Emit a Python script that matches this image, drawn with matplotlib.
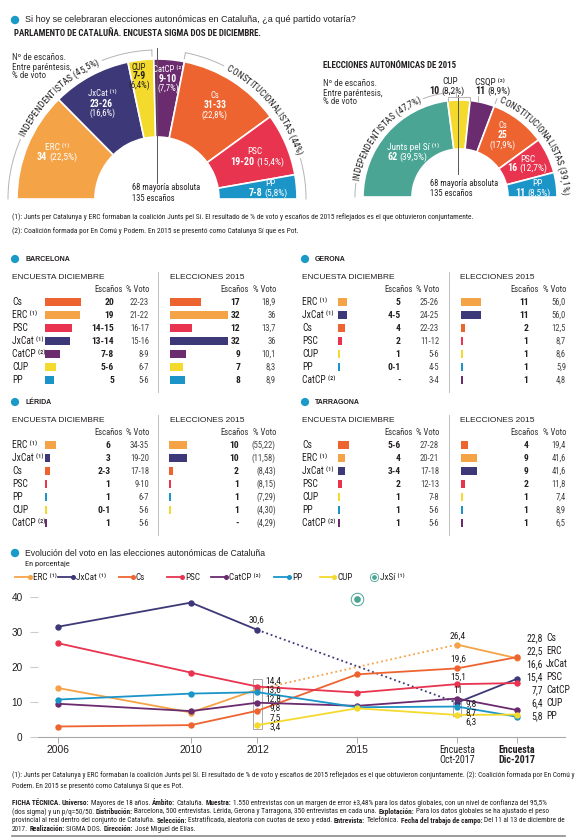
import matplotlib
matplotlib.use('Agg')
import numpy as np
import matplotlib.pyplot as plt
from matplotlib.patches import Circle, Rectangle
from matplotlib.font_manager import FontProperties, fontManager

W, H = 580, 838
_names = {f.name for f in fontManager.ttflist}
COND = next((n for n in ['Roboto Condensed', 'Liberation Sans Narrow', 'PT Sans Narrow', 'Archivo Narrow']
             if n in _names), 'DejaVu Sans')
NARROW = [COND, 'DejaVu Sans']
SANS = ['Liberation Sans', 'DejaVu Sans']
INK = '#231f20'
GREY = '#b4b4b4'
BULLET = '#1a9bc7'

colors = {'ERC': '#f5a347', 'JxCat': '#3d3978', 'CUP': '#f4da2c', 'CatCP': '#6b2b6f',
          'Cs': '#ee6430', 'PSC': '#e8344f', 'PP': '#1b95c8', 'JxSi': '#4aa594'}
sup = {'ERC': ' ⁽¹⁾', 'JxCat': ' ⁽¹⁾', 'CatCP': ' ⁽²⁾', 'JxSi': ' ⁽¹⁾', 'CSQP': ' ⁽²⁾'}

# --- hemicycle data ---
parl_parties = ['ERC', 'JxCat', 'CUP', 'CatCP', 'Cs', 'PSC', 'PP']
parl_seats = [34, 24.5, 8, 9.5, 32, 19.5, 7.5]   # middle of the seat ranges
parl_seat_txt = ['34', '23-26', '7-9', '9-10', '31-33', '19-20', '7-8']
parl_vote = [22.5, 16.6, 6.4, 7.7, 22.8, 15.4, 5.8]

e15_parties = ['JxSi', 'CUP', 'CatCP', 'Cs', 'PSC', 'PP']
e15_names = ['Junts pel Sí', 'CUP', 'CSQP', 'Cs', 'PSC', 'PP']
e15_seats = [62, 10, 11, 25, 16, 11]
e15_vote = [39.5, 8.2, 8.9, 17.9, 12.7, 8.5]

# --- provinces ---
bcn_parties = ['Cs', 'ERC', 'PSC', 'JxCat', 'CatCP', 'CUP', 'PP']
bcn_seats = ['20', '19', '14-15', '13-14', '7-8', '5-6', '5']
bcn_votes = ['22-23', '21-22', '16-17', '15-16', '8-9', '6-7', '5-6']
bcn_seats15 = ['17', '32', '12', '32', '9', '7', '8']
bcn_votes15 = ['18,9', '36', '13,7', '36', '10,1', '8,3', '8,9']

gir_parties = ['ERC', 'JxCat', 'Cs', 'PSC', 'CUP', 'PP', 'CatCP']
gir_seats = ['5', '4-5', '4', '2', '1', '0-1', '-']
gir_votes = ['25-26', '24-25', '22-23', '11-12', '5-6', '4-5', '3-4']
gir_seats15 = ['11', '11', '2', '1', '1', '1', '1']
gir_votes15 = ['56,0', '56,0', '12,5', '8,7', '8,6', '5,9', '4,8']

lle_parties = ['ERC', 'JxCat', 'Cs', 'PSC', 'PP', 'CUP', 'CatCP']
lle_seats = ['6', '3', '2-3', '1', '1', '0-1', '1']
lle_votes = ['34-35', '19-20', '17-18', '9-10', '6-7', '5-6', '5-6']
lle_seats15 = ['10', '10', '2', '1', '1', '1', '-']
lle_votes15 = ['(55,22)', '(11,58)', '(8,43)', '(8,15)', '(7,29)', '(4,30)', '(4,29)']

tar_parties = ['Cs', 'ERC', 'JxCat', 'PSC', 'CUP', 'PP', 'CatCP']
tar_seats = ['5-6', '4', '3-4', '2', '1', '1', '1']
tar_votes = ['27-28', '20-21', '17-18', '12-13', '7-8', '5-6', '5-6']
tar_seats15 = ['4', '9', '9', '2', '1', '1', '1']
tar_votes15 = ['19,4', '41,6', '41,6', '11,8', '7,4', '8,9', '6,5']

# --- evolution of the vote ---
x_labels = ['2006', '2010', '2012', '2015', 'Encuesta\nOct-2017', 'Encuesta\nDic-2017']
x_vals = [2006, 2010, 2012, 2015, 2018, 2019.8]
nan = np.nan
evo = {
    'ERC': [14.0, 7.0, 13.6, nan, 26.4, 22.5],
    'JxCat': [31.5, 38.4, 30.6, nan, 9.8, 16.6],
    'Cs': [3.0, 3.4, 7.5, 17.9, 19.6, 22.8],
    'PSC': [26.8, 18.4, 14.4, 12.7, 15.1, 15.4],
    'CatCP': [9.5, 7.4, 9.8, 8.9, 11.0, 7.7],
    'PP': [10.7, 12.4, 12.8, 8.5, 8.7, 5.8],
    'CUP': [nan, nan, 3.4, 8.2, 6.3, 6.4],
}
jxsi_2015 = 39.5


def fmt(v):
    return ('%g' % v).replace('.', ',')


def px_rect(x0, y0, x1, y1):
    return [x0 / W, 1 - y1 / H, (x1 - x0) / W, (y1 - y0) / H]


fig = plt.figure(figsize=(W / 100, H / 100), dpi=100)
ax0 = fig.add_axes([0, 0, 1, 1])
ax0.set_xlim(0, W)
ax0.set_ylim(H, 0)
ax0.axis('off')
ax0.set_zorder(5)
ax0.patch.set_alpha(0)
R = fig.canvas.get_renderer()


def fp(size, bold=False, family=NARROW):
    return FontProperties(family=family, size=size, weight='bold' if bold else 'normal')


def tw(s, prop):
    a = R.get_text_width_height_descent('|' + s + '|', prop, ismath=False)[0]
    b = R.get_text_width_height_descent('||', prop, ismath=False)[0]
    return a - b


def fit(s, width, bold=False, family=NARROW):
    return 10 * width / tw(s, fp(10, bold, family))


def txt(x, y, s, size, bold=False, family=NARROW, ha='left', color=INK, **kw):
    return ax0.text(x, y, s, fontproperties=fp(size, bold, family), ha=ha, va='center', color=color, **kw)


def runs(x, y, parts, ha='left', color=INK, family=NARROW):
    # parts: (text, size, bold)
    props = [fp(s, b, family) for _, s, b in parts]
    ws = [tw(t, p) for (t, _, _), p in zip(parts, props)]
    x0 = x - sum(ws) / 2 if ha == 'center' else (x - sum(ws) if ha == 'right' else x)
    for (t, _, _), p, w in zip(parts, props, ws):
        lead = t[:len(t) - len(t.lstrip(' '))]
        if t.strip():
            ax0.text(x0 + tw(lead, p), y, t.strip(), fontproperties=p, ha='left', va='center', color=color)
        x0 += w


def arc_text(cx, cy, r, ang, s, arc_len):
    prop = fp(fit(s, arc_len))
    total = tw(s, prop)
    for k, ch in enumerate(s):
        if ch == ' ':
            continue
        d = tw(s[:k + 1], prop) - tw(ch, prop) / 2 - total / 2
        a = np.radians(ang) - d / r
        ax0.text(cx + r * np.cos(a), cy - r * np.sin(a), ch, fontproperties=prop,
                 rotation=np.degrees(a) - 90, ha='center', va='baseline',
                 rotation_mode='anchor', color=INK)
    half = np.degrees(total / 2 / r)
    return ang + half, ang - half


def arc_line(cx, cy, r, a1, a2):
    t = np.radians(np.linspace(a1, a2, 60))
    ax0.plot(cx + r * np.cos(t), cy - r * np.sin(t), color=GREY, lw=0.7)


def radial_tick(cx, cy, r1, r2, a):
    t = np.radians(a)
    ax0.plot([cx + r1 * np.cos(t), cx + r2 * np.cos(t)], [cy - r1 * np.sin(t), cy - r2 * np.sin(t)],
             color=GREY, lw=0.7)


def hemicycle(cx, cy, r, r_in, seats, keys):
    ext = 1.12
    ax = fig.add_axes(px_rect(cx - ext * r, cy - ext * r, cx + ext * r, cy))
    total = sum(seats)
    wedges, _ = ax.pie(list(seats) + [total], colors=[colors[k] for k in keys] + ['white'],
                       startangle=180, counterclock=False,
                       wedgeprops=dict(width=1 - r_in / r, edgecolor='white', linewidth=1.2))
    wedges[-1].set_visible(False)
    ax.set_aspect('auto')
    ax.set_xlim(-ext, ext)
    ax.set_ylim(0, ext)
    ax.axis('off')


def hemi_label(pos, name, seats, vote, ha='center', color='white'):
    if len(pos) == 3:
        runs(pos[0][0], pos[0][1], [(name, 6.3, False)], ha, color)
        runs(pos[1][0], pos[1][1], [(seats, 6.9, True)], ha, color)
        runs(pos[2][0], pos[2][1], [('(' + fmt(vote) + '%)', 6.4, False)], ha, color)
    else:
        runs(pos[0][0], pos[0][1], [(name, 6.7, False)], ha, color)
        runs(pos[1][0], pos[1][1], [(seats, 7.2, True), (' (' + fmt(vote) + '%)', 6.8, False)], ha, color)


def note_block(x, y, lines, size, color='#333333'):
    for i, line in enumerate(lines):
        txt(x, y + 9 * i, line, size, color=color)


# ---------------- header ----------------
ax0.add_patch(Circle((15, 20), 3.5, color=BULLET))
s = 'Si hoy se celebraran elecciones autonómicas en Cataluña, ¿a qué partido votaría?'
txt(25, 20, s, fit(s, 331, family=SANS), family=SANS)
s = 'PARLAMENTO DE CATALUÑA. ENCUESTA SIGMA DOS DE DICIEMBRE.'
txt(14, 34, s, fit(s, 249, True), True)

note_lines = ['Nº de escaños.', 'Entre paréntesis,', '% de voto']
note_size = fit(note_lines[1], 53) * 1.12
maj_size = fit('68 mayoría absoluta', 61) * 1.12

# ---------------- left hemicycle ----------------
hemicycle(157, 199, 140, 62, parl_seats, parl_parties)
note_block(12, 58, note_lines, note_size)
ax0.plot([157, 157], [48, 183], color='#555555', lw=0.7)
txt(132, 188, '68 mayoría absoluta', maj_size)
txt(132, 198, '135 escaños', maj_size)

parl_pos = {'ERC': [(57, 147), (57, 157)],
            'JxCat': [(102, 93), (101, 104), (102, 113)],
            'CUP': [(139, 67), (139, 76), (139, 85)],
            'CatCP': [(168, 70), (168, 79), (168, 88)],
            'Cs': [(215, 96), (215, 105), (215, 115)],
            'PSC': [(255, 152), (257, 162)],
            'PP': [(270, 183), (268, 193)]}
for p, st, v in zip(parl_parties, parl_seat_txt, parl_vote):
    hemi_label(parl_pos[p], p + sup.get(p, ''), st, v, color=INK if p == 'CUP' else 'white')

indep = sum(parl_vote[:3])
const = sum(parl_vote[4:])
a1, a2 = arc_text(157, 199, 146, 134, 'INDEPENDENTISTAS (' + fmt(round(indep, 1)) + '%)', 107)
arc_line(157, 199, 149, 180, a1 + 1.5)
arc_line(157, 199, 149, a2 - 1.5, 92)
radial_tick(157, 199, 149, 143, 92)
a1, a2 = arc_text(157, 199, 146, 39.6, 'CONSTITUCIONALISTAS (' + fmt(round(const, 1)) + '%)', 113)
arc_line(157, 199, 149, 79, a1 + 1.5)
arc_line(157, 199, 149, a2 - 1.5, 0)
radial_tick(157, 199, 149, 143, 79)

# ---------------- right hemicycle ----------------
s = 'ELECCIONES AUTONÓMICAS DE 2015'
txt(323, 65, s, fit(s, 134, True), True)
note_block(323, 84, note_lines, note_size)
hemicycle(460, 197, 97, 48, e15_seats, e15_parties)
ax0.plot([458, 458], [95, 174], color='#555555', lw=0.7)
ax0.plot([448, 448, 470, 470], [101, 97, 97, 101], color=GREY, lw=0.7)
ax0.plot([478, 478], [96, 102], color=GREY, lw=0.7)
txt(430, 184, '68 mayoría absoluta', maj_size)
txt(430, 193, '135 escaños', maj_size)

e15_pos = {'JxSi': [(387, 147), (387, 157)],
           'CUP': [(450, 82), (447, 91)],
           'CatCP': [(475, 82), (475, 91)],
           'Cs': [(503, 126), (503, 135), (503, 145)],
           'PSC': [(528, 159), (527, 168)],
           'PP': [(537, 183), (533, 193)]}
for p, n, st, v in zip(e15_parties, e15_names, e15_seats, e15_vote):
    ha = 'left' if p in ('JxSi', 'CatCP') else 'center'
    col = INK if p in ('CUP', 'CatCP') else 'white'
    hemi_label(e15_pos[p], n + sup.get(n if n == 'CSQP' else p, ''), str(st), v, ha=ha, color=col)

indep15 = e15_vote[0] + e15_vote[1]
const15 = sum(e15_vote[3:])
a1, a2 = arc_text(460, 197, 102, 141.5, 'INDEPENDENTISTAS (' + fmt(round(indep15, 1)) + '%)', 106)
arc_line(460, 197, 105, 180, a1 + 1.5)
arc_line(460, 197, 105, a2 - 1.5, 92)
radial_tick(460, 197, 105, 100, 92)
a1, a2 = arc_text(460, 197, 102, 34.6, 'CONSTITUCIONALISTAS (' + fmt(round(const15, 1)) + '%)', 118)
radial_tick(460, 197, 105, 100, a1 + 1.5)
arc_line(460, 197, 105, a2 - 1.5, 0)

# ---------------- footnotes ----------------
fn1 = '(1): Junts per Catalunya y ERC formaban la coalición Junts pel Sí. El resultado de % de voto y escaños de 2015 reflejados es el que obtuvieron conjuntamente.'
fn2 = '(2): Coalición formada por En Comú y Podem. En 2015 se presentó como Catalunya Sí que es Pot.'
fn_size = fit(fn1, 455)
txt(12, 217, fn1, fn_size)
txt(12, 231, fn2, fn_size)


# ---------------- provinces ----------------
def top(s):
    return 0 if s == '-' else int(s.split('-')[-1])


title_size = fit('BARCELONA', 45, True, SANS)
head_size = fit('ENCUESTA DICIEMBRE', 93, family=SANS)
col_size = fit('Escaños', 27) * 1.06


def region(ox, oy, title, lay, parties, seats, votes, seats15, votes15):
    bx1, sr1, bx2, sr2, sep = lay
    ax0.add_patch(Circle((ox + 15, oy + 4), 3.4, color=BULLET))
    txt(ox + 25, oy + 4, title, title_size, True, SANS)
    txt(ox + 12, oy + 22, 'ENCUESTA DICIEMBRE', head_size, family=SANS)
    txt(ox + 170, oy + 22, 'ELECCIONES 2015', head_size, family=SANS)
    ax0.plot([ox + sep] * 2, [oy + 17, oy + 137], color=GREY, lw=0.6)
    for xe, xv in ((123, 149), (249, 276)):
        txt(ox + xe, oy + 34.5, 'Escaños', col_size, ha='right', color='#333333')
        txt(ox + xv, oy + 34.5, '% Voto', col_size, ha='right', color='#333333')
    for i, p in enumerate(parties):
        y = oy + 47 + 13 * i
        txt(ox + 12, y, p + sup.get(p, ''), 6.9)
        txt(ox + sr1, y, seats[i], 6.8, True, ha='right')
        txt(ox + 149, y, votes[i], 6.2, ha='right', color='#444444')
        txt(ox + sr2, y, seats15[i], 6.8, True, ha='right')
        txt(ox + 276, y, votes15[i], 6.2, ha='right', color='#444444')
    for bx, vals in ((bx1, seats), (bx2, seats15)):
        axb = fig.add_axes(px_rect(ox + bx, oy + 40.5, ox + bx + 62, oy + 131.5))
        axb.barh(np.arange(len(parties)), [top(v) for v in vals], height=0.64,
                 color=[colors[p] for p in parties])
        axb.set_xlim(0, 62 / 1.82)
        axb.set_ylim(len(parties) - 0.5, -0.5)
        axb.axis('off')


region(0, 255, 'BARCELONA', (45, 114, 170, 240, 158), bcn_parties, bcn_seats, bcn_votes, bcn_seats15, bcn_votes15)
region(290, 255, 'GERONA', (48, 110.5, 171, 238.5, 159), gir_parties, gir_seats, gir_votes, gir_seats15, gir_votes15)
region(0, 398, 'LÉRIDA', (45, 110.5, 169, 239, 158), lle_parties, lle_seats, lle_votes, lle_seats15, lle_votes15)
region(290, 398, 'TARRAGONA', (48, 110.5, 171, 238.5, 159), tar_parties, tar_seats, tar_votes, tar_seats15, tar_votes15)

# ---------------- evolution chart ----------------
ax0.add_patch(Circle((15, 553), 3.5, color=BULLET))
s = 'Evolución del voto en las elecciones autonómicas de Cataluña'
txt(25, 553, s, fit(s, 240, family=SANS), family=SANS)
txt(25, 564, 'En porcentaje', fit('En porcentaje', 43) * 1.05)

legend_items = [('ERC', 15, 30), ('JxCat', 58, 73), ('Cs', 119, 133), ('PSC', 167, 182),
                ('CatCP', 211, 226), ('PP', 274, 289), ('CUP', 320, 334)]
for k, x1, x2 in legend_items:
    ax0.plot([x1, x2], [577, 577], color=colors[k], lw=1.3)
    ax0.plot([x2], [577], 'o', ms=2.6, color=colors[k])
    txt(x2 + 3, 577, k + sup.get(k, ''), 6.6)
ax0.plot([374], [577], 'o', ms=6, mfc='white', mec=colors['JxSi'], mew=0.6)
ax0.plot([374], [577], 'o', ms=2.4, color=colors['JxSi'])
txt(380, 577, 'JxSí ⁽¹⁾', 6.6)

axl = fig.add_axes(px_rect(38, 590, 565, 737))
axl.patch.set_alpha(0)
for k, vals in evo.items():
    idx = [i for i, v in enumerate(vals) if not np.isnan(v)]
    for i, j in zip(idx[:-1], idx[1:]):
        ls = '-' if j == i + 1 else (0, (1, 1.6))
        axl.plot([x_vals[i], x_vals[j]], [vals[i], vals[j]], color=colors[k], lw=1.3, ls=ls)
    axl.plot([x_vals[i] for i in idx], [vals[i] for i in idx], 'o', ms=3.6, color=colors[k])
axl.plot([x_vals[3]], [jxsi_2015], 'o', ms=9, mfc='white', mec=colors['JxSi'], mew=0.7)
axl.plot([x_vals[3]], [jxsi_2015], 'o', ms=3.8, color=colors['JxSi'])

col12 = [v[2] for v in evo.values() if not np.isnan(v[2]) and v[2] < 20]
axl.add_patch(Rectangle((x_vals[2] - 0.13, min(col12) - 1.1), 0.26, max(col12) - min(col12) + 3.3,
                        fill=False, ec='#9a9a9a', lw=0.6))
box_oct = [evo['JxCat'][4], evo['PP'][4], evo['CUP'][4]]
axl.add_patch(Rectangle((x_vals[4] - 0.13, min(box_oct) - 0.3), 0.26, max(box_oct) - min(box_oct) + 1.6,
                        fill=False, ec='#9a9a9a', lw=0.6))

axl.set_xlim(2005.4, 2021.25)
axl.set_ylim(0, 42)
axl.set_yticks([0, 10, 20, 30, 40])
axl.set_xticks(x_vals)
axl.set_xticklabels(x_labels)
for sp in ('left', 'right', 'top'):
    axl.spines[sp].set_visible(False)
axl.spines['bottom'].set_color('#a8a8a8')
axl.spines['bottom'].set_linewidth(0.8)
axl.tick_params(axis='y', length=6, color='#cccccc', width=0.8, pad=5, labelcolor=INK)
axl.tick_params(axis='x', length=4, color='#a8a8a8', width=0.7, pad=2, labelcolor=INK)
for lab in axl.get_yticklabels():
    lab.set_fontproperties(fp(7.2, family=SANS))
for i, lab in enumerate(axl.get_xticklabels()):
    if i < 4:
        lab.set_fontproperties(fp(7.4, family=SANS))
    else:
        lab.set_fontproperties(fp(7.2, bold=(i == 5)))
    lab.set_linespacing(1.0)

# value labels
txt(257, 620, fmt(evo['JxCat'][2]), 6.8, ha='center')
order12 = sorted([k for k in evo if evo[k][2] < 20], key=lambda k: -evo[k][2])
for i, k in enumerate(order12):
    txt(281, 681 + 9.2 * i, fmt(evo[k][2]), 6.8, ha='right')
for k, y in (('ERC', 636), ('Cs', 659), ('PSC', 677), ('CatCP', 690)):
    txt(458, y, fmt(evo[k][4]), 6.8, ha='center')
for k, y in (('JxCat', 704), ('PP', 713), ('CUP', 722)):
    txt(477, y, fmt(evo[k][4]), 6.8, ha='right')
order_dic = sorted(evo, key=lambda k: -evo[k][5])
for i, k in enumerate(order_dic):
    txt(543, 638 + 13 * i, fmt(evo[k][5]), 7.0, ha='right')
    txt(546, 638 + 13 * i, k, 7.0)

# ---------------- bottom notes ----------------
bn1 = fn1 + ' (2): Coalición formada por En Comú y'
bn_size = fit(bn1, 553)
txt(12, 775, bn1, bn_size)
txt(12, 786, 'Podem. En 2015 se presentó como Catalunya Sí que es Pot.', bn_size)

ficha = [
    [('FICHA TÉCNICA. ', True), ('Universo:', True), (' Mayores de 18 años. ', False), ('Ámbito:', True),
     (' Cataluña. ', False), ('Muestra:', True),
     (' 1.550 entrevistas con un margen de error ±3,48% para los datos globales, con un nivel de confianza del 95,5%', False)],
    [('(dos sigma) y un p/q=50/50. ', False), ('Distribución:', True),
     (' Barcelona, 500 entrevistas. Lérida, Gerona y Tarragona, 350 entrevistas en cada una. ', False),
     ('Explotación:', True), (' Para los datos globales se ha ajustado el peso', False)],
    [('provincial al real dentro del conjunto de Cataluña. ', False), ('Selección:', True),
     (' Estratificada, aleatoria con cuotas de sexo y edad. ', False), ('Entrevista:', True),
     (' Telefónica. ', False), ('Fecha del trabajo de campo:', True), (' Del 11 al 13 de diciembre de', False)],
    [('2017. ', False), ('Realización:', True), (' SIGMA DOS. ', False), ('Dirección:', True),
     (' José Miguel de Elías.', False)],
]
w10 = sum(tw(t, fp(10, b)) for t, b in ficha[2])
ficha_size = 10 * 553 / w10
for i, line in enumerate(ficha):
    runs(12, 803 + 8.8 * i, [(t, ficha_size, b) for t, b in line])
ax0.plot([12, 565], [836, 836], color='#8a8a8a', lw=1.2)

fig.savefig('out.png', dpi=100)
